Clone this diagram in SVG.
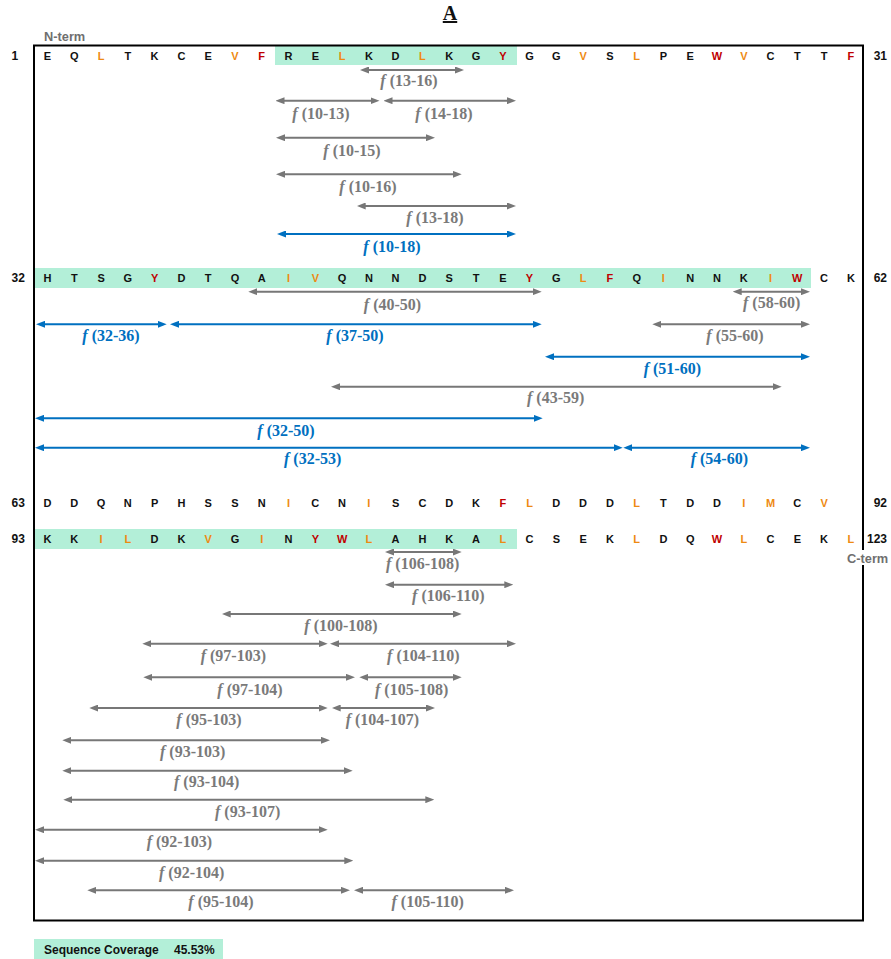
<svg xmlns="http://www.w3.org/2000/svg" width="891" height="959" viewBox="0 0 891 959">
  <style>
    .seq { font: bold 11px "Liberation Sans", Arial, sans-serif; text-anchor: middle; fill: #111; }
    .o { fill: #EE8A12; }
    .r { fill: #C00000; }
    .num { font: bold 12px "Liberation Sans", Arial, sans-serif; fill: #111; }
    .term { font: bold 12.8px "Liberation Sans", Arial, sans-serif; fill: #6f6f6f; }
    .band { fill: #B3EFD8; }
    .lbl { font: bold 16px "Liberation Serif", "Times New Roman", serif; text-anchor: middle; }
    .lbl tspan { font-style: italic; }
    .lg { fill: #7a7a7a; }
    .lb { fill: #0070C0; }
    .ag { stroke: #777; stroke-width: 2; fill: none; marker-start: url(#headG); marker-end: url(#headG); }
    .ab { stroke: #0070C0; stroke-width: 2; fill: none; marker-start: url(#headB); marker-end: url(#headB); }
  </style>
  <defs>
    <marker id="headG" viewBox="0 0 9 7" markerWidth="9" markerHeight="7" refX="5" refY="3.5" orient="auto-start-reverse" markerUnits="userSpaceOnUse">
      <path d="M0,0 L9,3.5 L0,7 z" fill="#777"/>
    </marker>
    <marker id="headB" viewBox="0 0 9 7" markerWidth="9" markerHeight="7" refX="5" refY="3.5" orient="auto-start-reverse" markerUnits="userSpaceOnUse">
      <path d="M0,0 L9,3.5 L0,7 z" fill="#0070C0"/>
    </marker>
  </defs>

  <rect width="891" height="959" fill="#fff"/>

  <g id="title">
    <text x="450" y="20" font-family="Liberation Serif, Times New Roman, serif" font-weight="bold" font-size="20" text-anchor="middle" text-decoration="underline" fill="#111">A</text>
  </g>

  <!-- covered stretches of the sequence -->
  <g id="coverage-bands">
    <rect class="band" x="275" y="46" width="242" height="19"/>
    <rect class="band" x="35" y="268" width="776" height="20"/>
    <rect class="band" x="35" y="529" width="482" height="20"/>
  </g>

  <g id="row-1">
    <text class="num" x="11.5" y="59.5">1</text>
    <text class="seq" x="47.5" y="59.5">E</text>
    <text class="seq" x="74.3" y="59.5">Q</text>
    <text class="seq o" x="101.1" y="59.5">L</text>
    <text class="seq" x="127.8" y="59.5">T</text>
    <text class="seq" x="154.6" y="59.5">K</text>
    <text class="seq" x="181.4" y="59.5">C</text>
    <text class="seq" x="208.2" y="59.5">E</text>
    <text class="seq o" x="235" y="59.5">V</text>
    <text class="seq r" x="261.7" y="59.5">F</text>
    <text class="seq" x="288.5" y="59.5">R</text>
    <text class="seq" x="315.3" y="59.5">E</text>
    <text class="seq o" x="342.1" y="59.5">L</text>
    <text class="seq" x="368.9" y="59.5">K</text>
    <text class="seq" x="395.6" y="59.5">D</text>
    <text class="seq o" x="422.4" y="59.5">L</text>
    <text class="seq" x="449.2" y="59.5">K</text>
    <text class="seq" x="476" y="59.5">G</text>
    <text class="seq r" x="502.8" y="59.5">Y</text>
    <text class="seq" x="529.5" y="59.5">G</text>
    <text class="seq" x="556.3" y="59.5">G</text>
    <text class="seq o" x="583.1" y="59.5">V</text>
    <text class="seq" x="609.9" y="59.5">S</text>
    <text class="seq o" x="636.7" y="59.5">L</text>
    <text class="seq" x="663.4" y="59.5">P</text>
    <text class="seq" x="690.2" y="59.5">E</text>
    <text class="seq r" x="717" y="59.5">W</text>
    <text class="seq o" x="743.8" y="59.5">V</text>
    <text class="seq" x="770.6" y="59.5">C</text>
    <text class="seq" x="797.3" y="59.5">T</text>
    <text class="seq" x="824.1" y="59.5">T</text>
    <text class="seq r" x="850.9" y="59.5">F</text>
    <text class="num" x="887" y="59.5" text-anchor="end">31</text>
  </g>

  <g id="row-32">
    <text class="num" x="11.5" y="282">32</text>
    <text class="seq" x="47.5" y="282">H</text>
    <text class="seq" x="74.3" y="282">T</text>
    <text class="seq" x="101.1" y="282">S</text>
    <text class="seq" x="127.8" y="282">G</text>
    <text class="seq r" x="154.6" y="282">Y</text>
    <text class="seq" x="181.4" y="282">D</text>
    <text class="seq" x="208.2" y="282">T</text>
    <text class="seq" x="235" y="282">Q</text>
    <text class="seq" x="261.7" y="282">A</text>
    <text class="seq o" x="288.5" y="282">I</text>
    <text class="seq o" x="315.3" y="282">V</text>
    <text class="seq" x="342.1" y="282">Q</text>
    <text class="seq" x="368.9" y="282">N</text>
    <text class="seq" x="395.6" y="282">N</text>
    <text class="seq" x="422.4" y="282">D</text>
    <text class="seq" x="449.2" y="282">S</text>
    <text class="seq" x="476" y="282">T</text>
    <text class="seq" x="502.8" y="282">E</text>
    <text class="seq r" x="529.5" y="282">Y</text>
    <text class="seq" x="556.3" y="282">G</text>
    <text class="seq o" x="583.1" y="282">L</text>
    <text class="seq r" x="609.9" y="282">F</text>
    <text class="seq" x="636.7" y="282">Q</text>
    <text class="seq o" x="663.4" y="282">I</text>
    <text class="seq" x="690.2" y="282">N</text>
    <text class="seq" x="717" y="282">N</text>
    <text class="seq" x="743.8" y="282">K</text>
    <text class="seq o" x="770.6" y="282">I</text>
    <text class="seq r" x="797.3" y="282">W</text>
    <text class="seq" x="824.1" y="282">C</text>
    <text class="seq" x="850.9" y="282">K</text>
    <text class="num" x="887" y="282" text-anchor="end">62</text>
  </g>

  <g id="row-63">
    <text class="num" x="11.5" y="506.5">63</text>
    <text class="seq" x="47.5" y="506.5">D</text>
    <text class="seq" x="74.3" y="506.5">D</text>
    <text class="seq" x="101.1" y="506.5">Q</text>
    <text class="seq" x="127.8" y="506.5">N</text>
    <text class="seq" x="154.6" y="506.5">P</text>
    <text class="seq" x="181.4" y="506.5">H</text>
    <text class="seq" x="208.2" y="506.5">S</text>
    <text class="seq" x="235" y="506.5">S</text>
    <text class="seq" x="261.7" y="506.5">N</text>
    <text class="seq o" x="288.5" y="506.5">I</text>
    <text class="seq" x="315.3" y="506.5">C</text>
    <text class="seq" x="342.1" y="506.5">N</text>
    <text class="seq o" x="368.9" y="506.5">I</text>
    <text class="seq" x="395.6" y="506.5">S</text>
    <text class="seq" x="422.4" y="506.5">C</text>
    <text class="seq" x="449.2" y="506.5">D</text>
    <text class="seq" x="476" y="506.5">K</text>
    <text class="seq r" x="502.8" y="506.5">F</text>
    <text class="seq o" x="529.5" y="506.5">L</text>
    <text class="seq" x="556.3" y="506.5">D</text>
    <text class="seq" x="583.1" y="506.5">D</text>
    <text class="seq" x="609.9" y="506.5">D</text>
    <text class="seq o" x="636.7" y="506.5">L</text>
    <text class="seq" x="663.4" y="506.5">T</text>
    <text class="seq" x="690.2" y="506.5">D</text>
    <text class="seq" x="717" y="506.5">D</text>
    <text class="seq o" x="743.8" y="506.5">I</text>
    <text class="seq o" x="770.6" y="506.5">M</text>
    <text class="seq" x="797.3" y="506.5">C</text>
    <text class="seq o" x="824.1" y="506.5">V</text>
    <text class="num" x="887" y="506.5" text-anchor="end">92</text>
  </g>

  <g id="row-93">
    <text class="num" x="11.5" y="543">93</text>
    <text class="seq" x="47.5" y="543">K</text>
    <text class="seq" x="74.3" y="543">K</text>
    <text class="seq o" x="101.1" y="543">I</text>
    <text class="seq o" x="127.8" y="543">L</text>
    <text class="seq" x="154.6" y="543">D</text>
    <text class="seq" x="181.4" y="543">K</text>
    <text class="seq o" x="208.2" y="543">V</text>
    <text class="seq" x="235" y="543">G</text>
    <text class="seq o" x="261.7" y="543">I</text>
    <text class="seq" x="288.5" y="543">N</text>
    <text class="seq r" x="315.3" y="543">Y</text>
    <text class="seq r" x="342.1" y="543">W</text>
    <text class="seq o" x="368.9" y="543">L</text>
    <text class="seq" x="395.6" y="543">A</text>
    <text class="seq" x="422.4" y="543">H</text>
    <text class="seq" x="449.2" y="543">K</text>
    <text class="seq" x="476" y="543">A</text>
    <text class="seq o" x="502.8" y="543">L</text>
    <text class="seq" x="529.5" y="543">C</text>
    <text class="seq" x="556.3" y="543">S</text>
    <text class="seq" x="583.1" y="543">E</text>
    <text class="seq" x="609.9" y="543">K</text>
    <text class="seq o" x="636.7" y="543">L</text>
    <text class="seq" x="663.4" y="543">D</text>
    <text class="seq" x="690.2" y="543">Q</text>
    <text class="seq r" x="717" y="543">W</text>
    <text class="seq o" x="743.8" y="543">L</text>
    <text class="seq" x="770.6" y="543">C</text>
    <text class="seq" x="797.3" y="543">E</text>
    <text class="seq" x="824.1" y="543">K</text>
    <text class="seq o" x="850.9" y="543">L</text>
    <text class="num" x="887" y="543" text-anchor="end">123</text>
  </g>

  <!-- frame around the sequence panel -->
  <rect id="frame" x="34" y="45.5" width="829" height="875" fill="none" stroke="#000" stroke-width="2"/>

  <!-- terminus tags; the C-term tag sits on a white patch over the frame -->
  <g id="termini">
    <text class="term" x="44" y="41">N-term</text>
    <rect x="845" y="550" width="46" height="15" fill="#fff"/>
    <text class="term" x="847" y="562.5">C-term</text>
  </g>

  <!-- fragment spans: lines end 4px short of each tip, the heads reach out to it -->
  <g id="fragments">
    <line class="ag" x1="364" y1="70" x2="460" y2="70"/>
    <line class="ag" x1="279.5" y1="100.7" x2="375.5" y2="100.7"/>
    <line class="ag" x1="387.5" y1="100.7" x2="512" y2="100.7"/>
    <line class="ag" x1="280" y1="137.7" x2="431" y2="137.7"/>
    <line class="ag" x1="280" y1="174.3" x2="457.7" y2="174.3"/>
    <line class="ag" x1="360.7" y1="206" x2="512" y2="206"/>
    <line class="ab" x1="281" y1="234" x2="512" y2="234"/>

    <line class="ag" x1="252.3" y1="291.7" x2="537.7" y2="291.7"/>
    <line class="ag" x1="736.7" y1="291.7" x2="806" y2="291.7"/>
    <line class="ab" x1="40" y1="324.3" x2="162.7" y2="324.3"/>
    <line class="ab" x1="174" y1="324.3" x2="537.7" y2="324.3"/>
    <line class="ag" x1="656.3" y1="324.3" x2="806" y2="324.3"/>
    <line class="ab" x1="549" y1="356.7" x2="806" y2="356.7"/>
    <line class="ag" x1="335" y1="386.7" x2="777.7" y2="386.7"/>
    <line class="ab" x1="39" y1="418.3" x2="538.7" y2="418.3"/>
    <line class="ab" x1="39" y1="447.7" x2="618.7" y2="447.7"/>
    <line class="ab" x1="627.3" y1="447.7" x2="806" y2="447.7"/>

    <line class="ag" x1="389" y1="552" x2="457.7" y2="552"/>
    <line class="ag" x1="389" y1="584.7" x2="509.3" y2="584.7"/>
    <line class="ag" x1="225.7" y1="614" x2="457.7" y2="614"/>
    <line class="ag" x1="146.3" y1="643.7" x2="323.7" y2="643.7"/>
    <line class="ag" x1="334" y1="643.7" x2="512" y2="643.7"/>
    <line class="ag" x1="147.3" y1="677.3" x2="351" y2="677.3"/>
    <line class="ag" x1="363.3" y1="677.3" x2="457.7" y2="677.3"/>
    <line class="ag" x1="93.3" y1="708" x2="323.7" y2="708"/>
    <line class="ag" x1="335.7" y1="708" x2="431" y2="708"/>
    <line class="ag" x1="66.3" y1="740.3" x2="326" y2="740.3"/>
    <line class="ag" x1="66.3" y1="770.7" x2="348.7" y2="770.7"/>
    <line class="ag" x1="67.3" y1="799.7" x2="430.3" y2="799.7"/>
    <line class="ag" x1="39" y1="829.7" x2="323.7" y2="829.7"/>
    <line class="ag" x1="39" y1="860.7" x2="349.3" y2="860.7"/>
    <line class="ag" x1="91.3" y1="890.3" x2="346" y2="890.3"/>
    <line class="ag" x1="358" y1="890.3" x2="510" y2="890.3"/>
  </g>

  <g id="fragment-labels">
    <text class="lbl lg" x="409" y="86"><tspan>f</tspan> (13-16)</text>
    <text class="lbl lg" x="321" y="119"><tspan>f</tspan> (10-13)</text>
    <text class="lbl lg" x="444" y="119"><tspan>f</tspan> (14-18)</text>
    <text class="lbl lg" x="352" y="155.5"><tspan>f</tspan> (10-15)</text>
    <text class="lbl lg" x="368" y="192"><tspan>f</tspan> (10-16)</text>
    <text class="lbl lg" x="435" y="222.5"><tspan>f</tspan> (13-18)</text>
    <text class="lbl lb" x="392" y="252"><tspan>f</tspan> (10-18)</text>

    <text class="lbl lg" x="392.5" y="309.5"><tspan>f</tspan> (40-50)</text>
    <text class="lbl lg" x="771.7" y="308"><tspan>f</tspan> (58-60)</text>
    <text class="lbl lb" x="111" y="340.5"><tspan>f</tspan> (32-36)</text>
    <text class="lbl lb" x="355" y="340.5"><tspan>f</tspan> (37-50)</text>
    <text class="lbl lg" x="735" y="340.5"><tspan>f</tspan> (55-60)</text>
    <text class="lbl lb" x="672.3" y="373.5"><tspan>f</tspan> (51-60)</text>
    <text class="lbl lg" x="555.7" y="403"><tspan>f</tspan> (43-59)</text>
    <text class="lbl lb" x="286" y="435.5"><tspan>f</tspan> (32-50)</text>
    <text class="lbl lb" x="312.7" y="464"><tspan>f</tspan> (32-53)</text>
    <text class="lbl lb" x="719.3" y="464"><tspan>f</tspan> (54-60)</text>

    <text class="lbl lg" x="422.7" y="568.5"><tspan>f</tspan> (106-108)</text>
    <text class="lbl lg" x="448.3" y="601"><tspan>f</tspan> (106-110)</text>
    <text class="lbl lg" x="341" y="631"><tspan>f</tspan> (100-108)</text>
    <text class="lbl lg" x="233.3" y="661"><tspan>f</tspan> (97-103)</text>
    <text class="lbl lg" x="423.3" y="661"><tspan>f</tspan> (104-110)</text>
    <text class="lbl lg" x="250" y="694.5"><tspan>f</tspan> (97-104)</text>
    <text class="lbl lg" x="411.7" y="694.5"><tspan>f</tspan> (105-108)</text>
    <text class="lbl lg" x="209" y="725"><tspan>f</tspan> (95-103)</text>
    <text class="lbl lg" x="382.3" y="725"><tspan>f</tspan> (104-107)</text>
    <text class="lbl lg" x="192.7" y="756.5"><tspan>f</tspan> (93-103)</text>
    <text class="lbl lg" x="206.7" y="786.5"><tspan>f</tspan> (93-104)</text>
    <text class="lbl lg" x="247.7" y="816.5"><tspan>f</tspan> (93-107)</text>
    <text class="lbl lg" x="179.3" y="846.5"><tspan>f</tspan> (92-103)</text>
    <text class="lbl lg" x="191.7" y="877.5"><tspan>f</tspan> (92-104)</text>
    <text class="lbl lg" x="221" y="906.5"><tspan>f</tspan> (95-104)</text>
    <text class="lbl lg" x="427.7" y="906.5"><tspan>f</tspan> (105-110)</text>
  </g>

  <g id="coverage-summary">
    <rect class="band" x="34" y="939" width="189" height="20"/>
    <text class="num" x="44" y="953.5">Sequence Coverage</text>
    <text class="num" x="174" y="953.5">45.53%</text>
  </g>
</svg>
